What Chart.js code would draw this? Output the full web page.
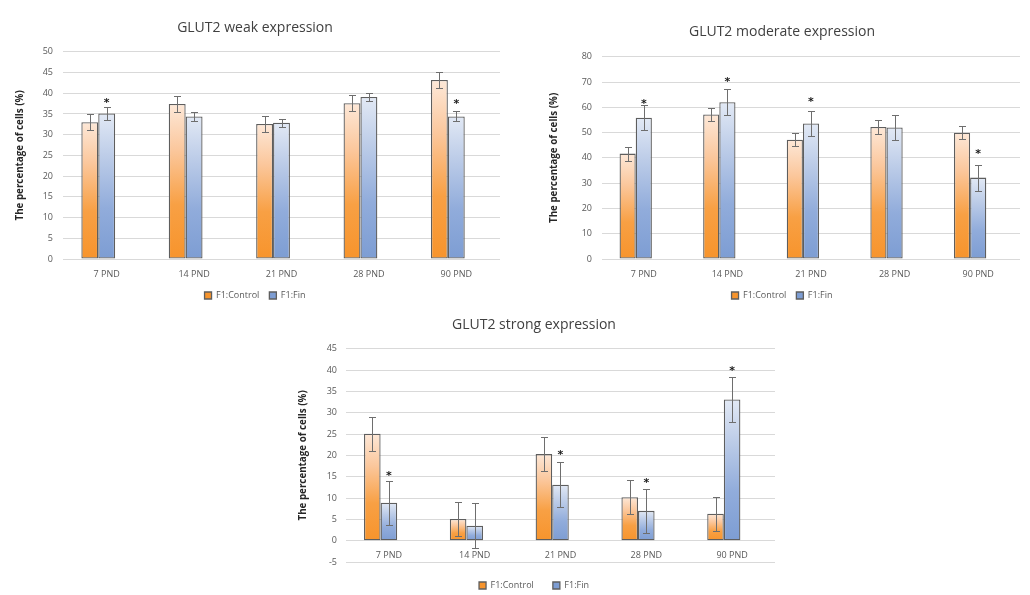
<!DOCTYPE html>
<html>
<head>
<meta charset="utf-8">
<script src="https://cdn.jsdelivr.net/npm/chart.js@4.4.1/dist/chart.umd.min.js"></script>
<style>
  html, body { margin: 0; padding: 0; background: #fff; overflow: hidden; }
  canvas { position: absolute; }
</style>
</head>
<body>
<canvas id="weakChart" width="520" height="310" style="left:0;top:0"></canvas>
<canvas id="moderateChart" width="510" height="310" style="left:520px;top:0"></canvas>
<canvas id="strongChart" width="530" height="300" style="left:260px;top:300px"></canvas>
<script>
// GLUT2 expression charts (three panels)
const periods = ['7 PND', '14 PND', '21 PND', '28 PND', '90 PND'];
const emptySlot = [null, null, null, null, null]; // third (unused) series slot, as in the original sheet

// weak expression
const weakControl = [33.0, 37.4, 32.6, 37.6, 43.2];
const weakControlErr = [1.9, 2.0, 2.0, 2.0, 2.0];
const weakFin = [35.1, 34.4, 32.9, 39.1, 34.4];
const weakFinErr = [1.5, 1.0, 1.0, 1.0, 1.2];
const weakStars = [38.3, null, null, null, 38.1];

// moderate expression
const moderateControl = [41.7, 57.2, 47.2, 52.2, 50.0];
const moderateControlErr = [2.8, 2.7, 2.5, 2.7, 2.6];
const moderateFin = [55.9, 62.0, 53.6, 52.0, 32.2];
const moderateFinErr = [5.0, 5.1, 5.0, 4.8, 5.1];
const moderateStars = [62.6, 71.2, 63.2, null, 42.5];

// strong expression
const strongControl = [25.1, 5.1, 20.3, 10.2, 6.3];
const strongControlErr = [4.0, 4.0, 4.0, 4.0, 4.0];
const strongFin = [8.9, 3.5, 13.1, 7.0, 33.1];
const strongFinErr = [5.2, 5.3, 5.3, 5.2, 5.3];
const strongStars = [15.9, null, 20.8, 14.2, 40.5];

const orangeStops = [[0, '#f7942c'], [0.35, '#f8a044'], [0.7, '#fbc79c'], [1, '#fde8d8']];
const blueStops = [[0, '#7d9dd3'], [0.35, '#91acdb'], [0.7, '#bccce8'], [1, '#e2e9f5']];

Chart.defaults.font.family = "'Open Sans', sans-serif";
Chart.defaults.color = '#595959';

// gradient per bar, from its base up to its top
function barFill(stops, solid) {
  return (ctx) => {
    if (ctx.type !== 'data' || !ctx.chart.chartArea) return solid;
    const y = ctx.chart.scales.y;
    const v = ctx.parsed ? ctx.parsed.y : ctx.raw;
    if (v == null) return solid;
    const top = y.getPixelForValue(v);
    const base = y.getPixelForValue(0);
    if (!isFinite(top) || Math.abs(top - base) < 1) return solid;
    const g = ctx.chart.ctx.createLinearGradient(0, base, 0, top);
    stops.forEach(s => g.addColorStop(s[0], s[1]));
    return g;
  };
}

const errorBarPlugin = {
  id: 'errorBars',
  afterDatasetsDraw(chart) {
    const { ctx } = chart;
    const y = chart.scales.y;
    ctx.save();
    ctx.strokeStyle = '#6e6e6e';
    ctx.lineWidth = 1;
    chart.data.datasets.forEach((ds, di) => {
      if (!ds.errors) return;
      chart.getDatasetMeta(di).data.forEach((bar, i) => {
        const v = ds.data[i], e = ds.errors[i];
        if (v == null || e == null) return;
        const x = Math.round(bar.x) + 0.5;
        const hi = Math.round(y.getPixelForValue(v + e)) + 0.5;
        const lo = Math.round(y.getPixelForValue(v - e)) + 0.5;
        ctx.beginPath();
        ctx.moveTo(x, hi); ctx.lineTo(x, lo);
        ctx.moveTo(x - 3.5, hi); ctx.lineTo(x + 3.5, hi);
        ctx.moveTo(x - 3.5, lo); ctx.lineTo(x + 3.5, lo);
        ctx.stroke();
      });
    });
    ctx.restore();
  }
};

// significance marks above the F1:Fin bars
const starPlugin = {
  id: 'sigStars',
  afterDatasetsDraw(chart, args, opts) {
    if (!opts.values) return;
    const { ctx } = chart;
    const y = chart.scales.y;
    const meta = chart.getDatasetMeta(1);
    ctx.save();
    ctx.fillStyle = '#1a1a1a';
    ctx.font = "bold 11px 'DejaVu Sans'";
    ctx.textAlign = 'center';
    ctx.textBaseline = 'middle';
    opts.values.forEach((v, i) => {
      if (v == null) return;
      ctx.fillText('*', meta.data[i].x, y.getPixelForValue(v) + 3);
    });
    ctx.restore();
  }
};

function buildChart(id, o) {
  const xScale = {
    grid: { display: false, drawTicks: false },
    border: { display: false },
    ticks: { font: { size: 9 }, color: '#595959', padding: 10 }
  };
  if (o.axisAtZero) {
    xScale.position = { y: 0 };
    xScale.ticks.padding = 9;
  } else {
    xScale.afterFit = (s) => { s.height = o.xHeight; };
  }
  return new Chart(document.getElementById(id), {
    type: 'bar',
    data: {
      labels: periods,
      datasets: [
        { label: 'F1:Control', data: o.control, errors: o.controlErr,
          backgroundColor: barFill(orangeStops, '#f8a65a'), borderColor: '#5e5e5e', borderWidth: 1.3, borderSkipped: false },
        { label: 'F1:Fin', data: o.fin, errors: o.finErr,
          backgroundColor: barFill(blueStops, '#a3b9df'), borderColor: '#5e5e5e', borderWidth: 1.3, borderSkipped: false },
        { label: '', data: emptySlot }
      ]
    },
    options: {
      responsive: false,
      animation: false,
      datasets: { bar: { categoryPercentage: 0.58, barPercentage: 1 } },
      layout: { padding: o.pad },
      plugins: {
        title: {
          display: true, text: o.title, color: '#404040',
          font: { size: 14, weight: 'normal' },
          padding: o.titlePad
        },
        legend: {
          position: 'bottom',
          labels: {
            boxWidth: 7, boxHeight: 7, padding: o.legendPad,
            font: { size: 9 }, color: '#595959',
            filter: (item) => item.datasetIndex < 2
          }
        },
        tooltip: { enabled: false },
        sigStars: { values: o.stars }
      },
      scales: {
        x: xScale,
        y: {
          min: o.yMin, max: o.yMax,
          grid: { color: '#d9d9d9', drawTicks: false },
          border: { display: false },
          ticks: { stepSize: o.yStep, font: { size: 9 }, color: '#595959', padding: o.tickPad },
          title: {
            display: true, text: 'The percentage of cells (%)', color: '#262626',
            font: { size: 9.8, weight: 'bold' }, padding: { top: 4, bottom: 0 }
          },
          afterFit: (s) => { s.width = o.yWidth; }
        }
      }
    },
    plugins: [errorBarPlugin, starPlugin]
  });
}

buildChart('weakChart', {
  title: 'GLUT2 weak expression',
  control: weakControl, controlErr: weakControlErr,
  fin: weakFin, finErr: weakFinErr, stars: weakStars,
  yMin: 0, yMax: 50, yStep: 5,
  pad: { left: 10, right: 20, top: 0, bottom: 0 },
  titlePad: { top: 20, bottom: 15 },
  yWidth: 53, tickPad: 10, xHeight: 22, legendPad: 10
});

buildChart('moderateChart', {
  title: 'GLUT2 moderate expression',
  control: moderateControl, controlErr: moderateControlErr,
  fin: moderateFin, finErr: moderateFinErr, stars: moderateStars,
  yMin: 0, yMax: 80, yStep: 10,
  pad: { left: 24, right: 10, top: 0, bottom: 0 },
  titlePad: { top: 24, bottom: 16 },
  yWidth: 58, tickPad: 10, xHeight: 22, legendPad: 10
});

buildChart('strongChart', {
  title: 'GLUT2 strong expression',
  control: strongControl, controlErr: strongControlErr,
  fin: strongFin, finErr: strongFinErr, stars: strongStars,
  yMin: -5, yMax: 45, yStep: 5,
  pad: { left: 33, right: 15, top: 0, bottom: 0 },
  titlePad: { top: 17, bottom: 15 },
  yWidth: 53, tickPad: 9, axisAtZero: true, legendPad: 19
});
</script>
</body>
</html>
